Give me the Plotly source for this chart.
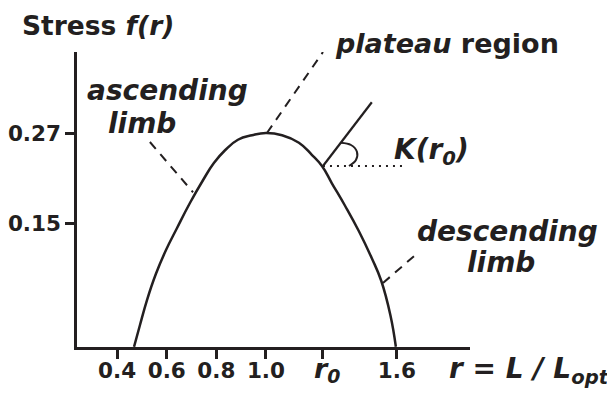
import plotly.graph_objects as go

# ---- data (axis units) ----
curve_r = [0.468, 0.492, 0.520, 0.556, 0.597, 0.641, 0.694, 0.746, 0.790, 0.835, 0.887, 0.944, 1.000,
           1.065, 1.133, 1.185, 1.226, 1.266, 1.319, 1.375, 1.427, 1.465, 1.502, 1.524]
curve_f = [-0.015, 0.014, 0.047, 0.082, 0.114, 0.143, 0.177, 0.207, 0.230, 0.247, 0.261, 0.267, 0.270,
           0.267, 0.257, 0.241, 0.226, 0.203, 0.173, 0.139, 0.103, 0.073, 0.027, -0.015]

x_tickvals = [0.4, 0.6, 0.8, 1.0, 1.23, 1.528]
x_ticktext = ["<b>0.4</b>", "<b>0.6</b>", "<b>0.8</b>", "<b>1.0</b>",
              "<span style='font-size:27px'>&nbsp;<b><i>r<sub>0</sub></i></b></span>", "<b>1.6</b>"]
y_tickvals = [0.15, 0.27]
y_ticktext = ["<b>0.15</b>", "<b>0.27</b>"]

ascending_ptr_x = [0.532, 0.706]
ascending_ptr_y = [0.258, 0.191]
plateau_ptr_x = [1.004, 1.23]
plateau_ptr_y = [0.270, 0.378]
descending_ptr_x = [1.472, 1.601]
descending_ptr_y = [0.070, 0.107]
tangent_x = [1.23, 1.427]
tangent_y = [0.226, 0.311]
horiz_x = [1.23, 1.560]
horiz_y = [0.226, 0.226]
arc_x = [1.302, 1.343, 1.367, 1.363, 1.335]
arc_y = [0.257, 0.254, 0.245, 0.234, 0.226]

X_RANGE = [0.238, 1.823]
Y_RANGE = [-0.0153, 0.378]

INK = "#231f20"
W, H = 607, 393
ML, MR, MT, MB = 77, 137, 52, 46

fig = go.Figure()
fig.add_trace(go.Scatter(x=curve_r, y=curve_f, mode="lines",
                         line=dict(color=INK, width=2.5, shape="spline", smoothing=1.3),
                         hoverinfo="skip"))
for xs, ys, dash, wd in [
    (ascending_ptr_x, ascending_ptr_y, "9px,7px", 2),
    (plateau_ptr_x, plateau_ptr_y, "9px,7px", 2),
    (descending_ptr_x, descending_ptr_y, "9px,7px", 2),
    (tangent_x, tangent_y, "solid", 2.2),
    (horiz_x, horiz_y, "2px,5px", 2),
]:
    fig.add_trace(go.Scatter(x=xs, y=ys, mode="lines",
                             line=dict(color=INK, width=wd, dash=dash), hoverinfo="skip"))
fig.add_trace(go.Scatter(x=arc_x, y=arc_y, mode="lines",
                         line=dict(color=INK, width=2, shape="spline"), hoverinfo="skip"))


def px(xp):
    return (xp - ML) / (W - ML - MR)


def py(yp):
    return (H - MB - yp) / (H - MT - MB)


FONT = "DejaVu Sans, Verdana, sans-serif"
texts = [
    ("<b>Stress <i>f(r)</i></b>", 20, 25, "left", 26.5),
    ("<b><i>ascending</i></b>", 167, 90, "center", 28),
    ("<b><i>limb</i></b>", 142, 123, "center", 28),
    ("<b><i>plateau</i> region</b>", 333, 44, "left", 27),
    ("<b><i>K(r<sub>0</sub>)</i></b>", 392, 151, "left", 28),
    ("<b><i>descending</i></b>", 415, 232, "left", 28),
    ("<b><i>limb</i></b>", 465, 262, "left", 28),
    ("<b><i>r = L / L<sub>opt</sub></i></b>", 447, 370, "left", 28),
]
for t, x, y, anc, fs in texts:
    fig.add_annotation(text=t, x=px(x), y=py(y), xref="paper", yref="paper",
                       xanchor=anc, yanchor="middle", showarrow=False,
                       font=dict(family=FONT, size=fs, color=INK))

axis_common = dict(showline=True, linecolor=INK, linewidth=2.5, ticks="outside",
                   ticklen=9, tickwidth=2.5, tickcolor=INK, showgrid=False, zeroline=False,
                   automargin=False,
                   tickfont=dict(family=FONT, size=21.5, color=INK))
fig.update_xaxes(range=X_RANGE, tickmode="array", tickvals=x_tickvals, ticktext=x_ticktext,
                 ticklabelstandoff=-7, **axis_common)
fig.update_yaxes(range=Y_RANGE, tickmode="array", tickvals=y_tickvals, ticktext=y_ticktext,
                 **axis_common)
fig.update_layout(width=W, height=H, margin=dict(l=ML, r=MR, t=MT, b=MB),
                  paper_bgcolor="white", plot_bgcolor="white", showlegend=False)
fig.write_html("out.html")
